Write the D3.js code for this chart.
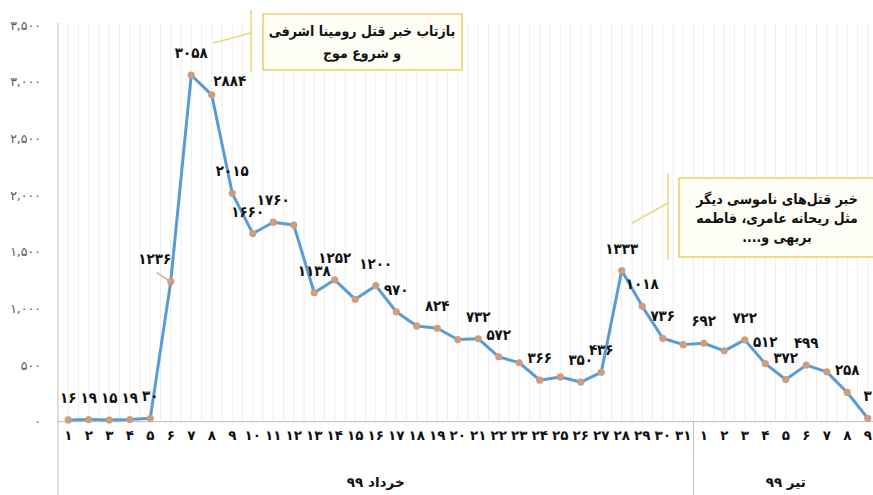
<!DOCTYPE html>
<html>
<head>
<meta charset="utf-8">
<script src="https://cdn.jsdelivr.net/npm/d3@7"></script>
<style>
    body { margin: 0; background: #fff; }
    svg { display: block; font-family: "DejaVu Sans", sans-serif; }
    .cond { font-family: "DejaVu Sans Condensed", "DejaVu Sans", sans-serif; font-stretch: condensed; }
</style>
</head>
<body>
<div id="chart"></div>
<script>
// days of khordad 99 then tir 99
var khordadDays = d3.range(1, 32);
var tirDays = d3.range(1, 10);
var groupNames = ["خرداد ۹۹", "تیر ۹۹"];

var values = [16, 19, 15, 19, 30, 1236, 3058, 2884, 2015, 1660,
    1760, 1735, 1138, 1252, 1080, 1200, 970, 845, 824, 725,
    732, 572, 520, 366, 395, 350, 436, 1333, 1018, 736,
    680, 692, 625, 722, 512, 372, 499, 440, 258, 30];

// indices of points that carry a value label
var labelled = [0, 1, 2, 3, 4, 5, 6, 7, 8, 9, 10, 12, 13, 15, 16, 18, 20, 21, 23, 25,
    26, 27, 28, 29, 31, 33, 34, 35, 36, 38, 39];

var yTicks = [0, 500, 1000, 1500, 2000, 2500, 3000, 3500];

var notes = [
    ["بازتاب خبر قتل رومینا اشرفی", "و شروع موج"],
    ["خبر قتل‌های ناموسی دیگر", "مثل ریحانه عامری، فاطمه", "بریهی و...."]
];

var faDigits = "۰۱۲۳۴۵۶۷۸۹";
function fa(s) {
    return String(s).replace(/[0-9]/g, function (c) { return faDigits[+c]; });
}

var W = 873, H = 495;
var plotLeft = 58, plotRight = 878, plotTop = 25, base = 421.7;

var cats = khordadDays.map(function (d) { return "k" + d; })
    .concat(tirDays.map(function (d) { return "t" + d; }));
var catLabel = khordadDays.concat(tirDays);

var x = d3.scaleBand().domain(cats).range([plotLeft, plotRight]);
var y = d3.scaleLinear().domain([0, 3500]).range([base, plotTop]);

var svg = d3.select("#chart").append("svg")
    .attr("width", W)
    .attr("height", H);

// faint vertical grid, at band edges and centres
var bw = x.bandwidth();
var gx = [];
cats.forEach(function (c) { gx.push(x(c)); gx.push(x(c) + bw / 2); });
svg.append("g").selectAll("line")
    .data(gx.slice(1))
    .enter().append("line")
    .attr("x1", function (d) { return d; })
    .attr("x2", function (d) { return d; })
    .attr("y1", plotTop - 2)
    .attr("y2", base)
    .attr("stroke", "#eeeeee")
    .attr("stroke-width", 1);

// y axis labels
var yaxis = svg.append("g")
    .attr("transform", "translate(" + (plotLeft - 14) + ",0)")
    .call(d3.axisLeft(y).tickValues(yTicks).tickSize(0).tickFormat(function (d) {
        return fa(d3.format(",")(d));
    }));
yaxis.select(".domain").remove();
yaxis.selectAll("text")
    .attr("fill", "#595959")
    .style("font-size", "12.5px")
    .style("font-family", "DejaVu Sans");

// x axis
var xaxis = svg.append("g")
    .attr("transform", "translate(0," + base + ")")
    .call(d3.axisBottom(x).tickSize(0).tickPadding(9).tickFormat(function (d, i) {
        return fa(catLabel[i]);
    }));
xaxis.select(".domain").remove();
xaxis.selectAll("text")
    .attr("fill", "#111")
    .style("font-size", "13.5px")
    .style("font-weight", "bold")
    .style("font-family", "DejaVu Sans");

svg.append("line")
    .attr("x1", plotLeft).attr("x2", W)
    .attr("y1", base).attr("y2", base)
    .attr("stroke", "#bfbfbf");
svg.append("line")
    .attr("x1", plotLeft).attr("x2", plotLeft)
    .attr("y1", plotTop - 2).attr("y2", H)
    .attr("stroke", "#bfbfbf");
var split = x("t1");
svg.append("line")
    .attr("x1", split).attr("x2", split)
    .attr("y1", base).attr("y2", H)
    .attr("stroke", "#bfbfbf");

// month group labels
var groupCenters = [(plotLeft + split) / 2, (split + plotRight) / 2];
svg.selectAll(".grp")
    .data(groupNames)
    .enter().append("text")
    .attr("class", "grp")
    .attr("x", function (d, i) { return groupCenters[i]; })
    .attr("y", 487)
    .attr("text-anchor", "middle")
    .style("direction", "rtl")
    .style("font-size", "13.5px")
    .style("font-weight", "bold")
    .attr("fill", "#111")
    .text(function (d) { return d; });

// series line
var pts = values.map(function (v, i) {
    return { x: x(cats[i]) + bw / 2, y: y(v), v: v, i: i };
});
var valueline = d3.line()
    .x(function (d) { return d.x; })
    .y(function (d) { return d.y; });

svg.append("path")
    .datum(pts)
    .attr("d", valueline)
    .attr("fill", "none")
    .attr("stroke", "#5b9bd5")
    .attr("stroke-width", 3)
    .attr("stroke-linejoin", "round");

svg.selectAll(".dot")
    .data(pts)
    .enter().append("circle")
    .attr("class", "dot")
    .attr("cx", function (d) { return d.x; })
    .attr("cy", function (d) { return d.y; })
    .attr("r", 3.6)
    .attr("fill", "#cf9c7c");

// value labels, a few are nudged off the line like the original
var nudge = { 5: [-16, -1], 7: [18, 8], 9: [-5, 0], 39: [4, 0] };
svg.selectAll(".lab")
    .data(pts.filter(function (d) { return labelled.indexOf(d.i) >= 0; }))
    .enter().append("text")
    .attr("class", "lab cond")
    .attr("x", function (d) { return d.x + (nudge[d.i] ? nudge[d.i][0] : 0); })
    .attr("y", function (d) { return d.y - 17 + (nudge[d.i] ? nudge[d.i][1] : 0); })
    .attr("text-anchor", "middle")
    .style("font-size", "15px")
    .style("font-weight", "bold")
    .attr("fill", "#111")
    .text(function (d) { return fa(d.v); });

// leader for the 1236 label
var p6 = pts[5];
svg.append("line")
    .attr("x1", p6.x - 14).attr("y1", p6.y - 9)
    .attr("x2", p6.x).attr("y2", p6.y)
    .attr("stroke", "#d4a98c")
    .attr("stroke-width", 1.5);

// callout boxes
var boxes = [
    { x: 263, y: 14, w: 199, h: 56, bar: 251, barTop: 10, barBot: 72, from: [251, 33], to: [213, 43], lh: 22, cx: 362 },
    { x: 679, y: 178, w: 200, h: 79, bar: 668, barTop: 173, barBot: 260, from: [668, 203], to: [632, 223], lh: 19, cx: 777 }
];
boxes.forEach(function (b, k) {
    var g = svg.append("g");
    g.append("line")
        .attr("x1", b.bar).attr("x2", b.bar)
        .attr("y1", b.barTop).attr("y2", b.barBot)
        .attr("stroke", "#ead879").attr("stroke-width", 1.5);
    g.append("line")
        .attr("x1", b.from[0]).attr("y1", b.from[1])
        .attr("x2", b.to[0]).attr("y2", b.to[1])
        .attr("stroke", "#ead879").attr("stroke-width", 1.5);
    g.append("rect")
        .attr("x", b.x).attr("y", b.y)
        .attr("width", b.w).attr("height", b.h)
        .attr("fill", "#fffef6")
        .attr("stroke", "#e6d26a")
        .attr("stroke-width", 1.5);
    var lines = notes[k];
    var y0 = b.y + b.h / 2 - (lines.length - 1) * b.lh / 2 + 5;
    g.selectAll("text")
        .data(lines)
        .enter().append("text")
        .attr("class", "cond")
        .attr("x", b.cx)
        .attr("y", function (d, i) { return y0 + i * b.lh; })
        .attr("text-anchor", "middle")
        .style("direction", "rtl")
        .style("font-size", "14px")
        .style("font-weight", "bold")
        .attr("fill", "#111")
        .text(function (d) { return d; });
});
</script>
</body>
</html>
